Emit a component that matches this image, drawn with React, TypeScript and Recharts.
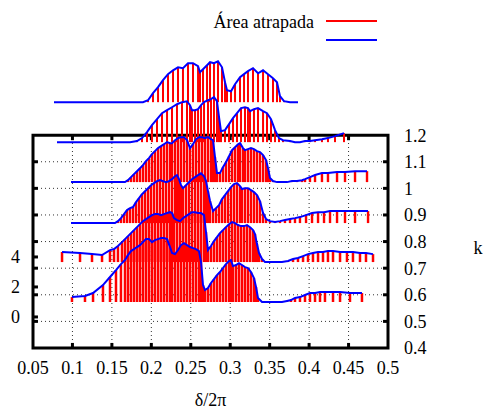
import {
  ComposedChart,
  Line,
  Scatter,
  ErrorBar,
  XAxis,
  YAxis,
  ReferenceLine,
  ReferenceArea,
} from "recharts";

// axis ticks
const xTicks = [0.05, 0.1, 0.15, 0.2, 0.25, 0.3, 0.35, 0.4, 0.45, 0.5];
const kTicks = [0.4, 0.5, 0.6, 0.7, 0.8, 0.9, 1, 1.1, 1.2];
const zTicks = [0, 2, 4];

// where each curve sits on the k scale (waterfall offsets)
const traceBase = [0.5728, 0.723, 0.8695, 1.0235, 1.1737, 1.3239];

// [δ/2π, area] samples, front curve first
const trace1: [number, number][] = [
  [0.0994, 0.33], [0.1159, 0.4], [0.1261, 0.6], [0.1387, 1.13], [0.1476, 1.67], [0.1552, 2.13],
  [0.1615, 2.53], [0.1666, 2.8], [0.1704, 3.13], [0.1742, 3.4], [0.178, 3.53], [0.1818, 3.67],
  [0.1856, 3.8], [0.1894, 4.0], [0.1932, 4.2], [0.197, 4.2], [0.2008, 4.0], [0.2046, 4.13],
  [0.2085, 4.2], [0.2123, 4.27], [0.2161, 4.27], [0.2199, 4.2], [0.2237, 3.67], [0.2262, 3.27],
  [0.23, 3.2], [0.2338, 3.47], [0.2376, 3.8], [0.2414, 3.93], [0.2452, 3.8], [0.249, 3.67],
  [0.2528, 3.6], [0.2566, 3.53], [0.2604, 3.4], [0.263, 2.67], [0.2655, 1.13], [0.268, 0.8],
  [0.2718, 0.93], [0.2756, 1.27], [0.2794, 1.53], [0.2832, 1.8], [0.287, 2.0], [0.2908, 2.27],
  [0.2946, 2.53], [0.2985, 2.73], [0.301, 2.8], [0.3035, 2.4], [0.3073, 2.47], [0.3111, 2.6],
  [0.3149, 2.47], [0.3187, 2.33], [0.3225, 2.27], [0.3263, 2.0], [0.3301, 1.6], [0.3327, 1.0],
  [0.3352, 0.27], [0.3403, 0], [0.3466, 0], [0.353, 0], [0.3593, 0], [0.3656, 0], [0.372, 0.07],
  [0.377, 0.13], [0.3821, 0.27], [0.3884, 0.33], [0.3948, 0.47], [0.4011, 0.6], [0.4075, 0.6],
  [0.4138, 0.67], [0.4201, 0.67], [0.4303, 0.67], [0.4392, 0.67], [0.4518, 0.6], [0.467, 0.6],
];

const trace2: [number, number][] = [
  [0.0868, 0.67], [0.1096, 0.6], [0.1248, 0.53], [0.1375, 0.47], [0.1476, 0.8], [0.1527, 0.87],
  [0.1577, 1.07], [0.1628, 1.33], [0.1666, 1.53], [0.1704, 1.73], [0.1742, 1.93], [0.178, 2.13],
  [0.1818, 2.33], [0.1856, 2.53], [0.1894, 2.73], [0.1932, 2.87], [0.197, 3.0], [0.2008, 3.13],
  [0.2046, 3.2], [0.2085, 3.2], [0.2123, 3.13], [0.2161, 3.2], [0.2199, 3.27], [0.2237, 3.33],
  [0.2262, 3.27], [0.2287, 2.93], [0.2325, 2.8], [0.2363, 2.73], [0.2401, 2.93], [0.2439, 3.07],
  [0.2477, 3.2], [0.2515, 3.33], [0.2554, 3.33], [0.2592, 3.27], [0.263, 3.27], [0.2668, 3.13],
  [0.2693, 2.0], [0.2718, 0.8], [0.2756, 1.07], [0.2794, 1.4], [0.2832, 1.67], [0.287, 1.93],
  [0.2908, 2.13], [0.2946, 2.33], [0.2985, 2.53], [0.3023, 2.67], [0.3061, 2.6], [0.3099, 2.47],
  [0.3137, 2.4], [0.3175, 2.4], [0.3213, 2.47], [0.3251, 2.33], [0.3289, 2.13], [0.3314, 1.87],
  [0.3339, 1.2], [0.3365, 0.6], [0.3403, 0.2], [0.3441, 0], [0.3504, 0], [0.358, 0], [0.3656, 0],
  [0.3732, 0.07], [0.3796, 0.2], [0.3859, 0.27], [0.3923, 0.4], [0.3986, 0.53], [0.4049, 0.6],
  [0.4113, 0.67], [0.4176, 0.67], [0.4239, 0.73], [0.4303, 0.73], [0.4392, 0.67], [0.448, 0.67],
  [0.4556, 0.67], [0.4645, 0.6], [0.4721, 0.6], [0.481, 0.53],
];

const trace3: [number, number][] = [
  [0.0982, 0], [0.1096, 0], [0.1223, 0], [0.1349, 0], [0.1476, 0], [0.1539, 0], [0.1577, 0.13],
  [0.1615, 0.33], [0.1654, 0.6], [0.1692, 0.87], [0.173, 1.0], [0.1768, 1.07], [0.1806, 1.4],
  [0.1844, 1.67], [0.1882, 1.93], [0.192, 2.13], [0.1958, 2.33], [0.1996, 2.53], [0.2034, 2.67],
  [0.2072, 2.8], [0.211, 2.87], [0.2148, 2.8], [0.2186, 2.73], [0.2224, 2.8], [0.2262, 2.93],
  [0.23, 3.13], [0.2325, 3.2], [0.2351, 2.93], [0.2376, 2.53], [0.2401, 2.33], [0.2439, 2.53],
  [0.2477, 2.73], [0.2515, 2.93], [0.2554, 3.07], [0.2592, 3.2], [0.263, 3.33], [0.2668, 3.13],
  [0.2693, 2.8], [0.2718, 2.13], [0.2744, 1.47], [0.2782, 0.8], [0.282, 1.0], [0.2858, 1.2],
  [0.2896, 1.6], [0.2934, 1.87], [0.2972, 2.13], [0.301, 2.4], [0.3048, 2.6], [0.3086, 2.67],
  [0.3124, 2.47], [0.3149, 2.27], [0.3187, 2.33], [0.3225, 2.33], [0.3263, 2.2], [0.3301, 2.07],
  [0.3339, 1.87], [0.3377, 1.47], [0.3416, 0.67], [0.3454, 0.27], [0.3504, 0.13], [0.3568, 0.07],
  [0.3631, 0.13], [0.3694, 0.2], [0.3758, 0.27], [0.3821, 0.33], [0.3884, 0.4], [0.3961, 0.53],
  [0.4037, 0.67], [0.4113, 0.73], [0.4189, 0.73], [0.4265, 0.8], [0.4354, 0.8], [0.4455, 0.8],
  [0.4582, 0.8], [0.4747, 0.8],
];

const trace4: [number, number][] = [
  [0.0982, 0], [0.1096, 0], [0.1223, 0], [0.1349, 0], [0.1476, 0], [0.1603, 0], [0.1666, 0],
  [0.1704, 0.13], [0.1742, 0.33], [0.178, 0.53], [0.1818, 0.73], [0.1856, 0.93], [0.1894, 1.13],
  [0.1932, 1.4], [0.197, 1.6], [0.2008, 1.87], [0.2046, 2.07], [0.2085, 2.27], [0.2123, 2.4],
  [0.2161, 2.53], [0.2199, 2.67], [0.2237, 2.6], [0.2262, 2.6], [0.23, 2.8], [0.2338, 2.93],
  [0.2376, 3.0], [0.2414, 3.0], [0.2452, 2.8], [0.249, 2.27], [0.2528, 2.53], [0.2566, 2.87],
  [0.2604, 3.0], [0.2642, 3.0], [0.268, 2.93], [0.2718, 3.0], [0.2756, 2.87], [0.2782, 2.8],
  [0.2807, 1.67], [0.2832, 0.6], [0.287, 0.6], [0.2908, 1.0], [0.2946, 1.33], [0.2985, 1.73],
  [0.3023, 2.13], [0.3061, 2.33], [0.3099, 2.53], [0.3124, 2.6], [0.3162, 2.27], [0.3187, 2.13],
  [0.3225, 2.2], [0.3263, 2.27], [0.3301, 2.2], [0.3339, 2.07], [0.3377, 2.0], [0.3416, 1.8],
  [0.3454, 1.47], [0.3479, 0.93], [0.3504, 0.27], [0.3542, 0.07], [0.3593, 0], [0.3656, 0],
  [0.372, 0], [0.3783, 0.07], [0.3846, 0.07], [0.391, 0.13], [0.3948, 0.2], [0.4011, 0.33],
  [0.4075, 0.47], [0.4163, 0.6], [0.4239, 0.6], [0.4354, 0.67], [0.4455, 0.67], [0.4582, 0.73],
  [0.4734, 0.73],
];

const trace5: [number, number][] = [
  [0.0804, 0], [0.0969, 0], [0.1159, 0], [0.1349, 0], [0.1539, 0], [0.173, 0], [0.1818, 0.07],
  [0.1882, 0.27], [0.1945, 0.67], [0.2008, 1.13], [0.2072, 1.53], [0.2135, 1.93], [0.2199, 2.13],
  [0.2262, 2.33], [0.2325, 2.53], [0.2389, 2.67], [0.2452, 2.73], [0.249, 2.47], [0.2515, 2.13],
  [0.2554, 2.13], [0.2592, 2.2], [0.263, 2.47], [0.2668, 2.67], [0.2718, 2.8], [0.2756, 2.87],
  [0.2794, 3.0], [0.2832, 2.73], [0.2858, 1.67], [0.2883, 0.73], [0.2934, 0.8], [0.2985, 1.2],
  [0.3035, 1.6], [0.3086, 1.93], [0.3137, 2.27], [0.3187, 2.33], [0.3225, 2.27], [0.3251, 2.07],
  [0.3301, 2.2], [0.3352, 2.27], [0.3416, 2.07], [0.3466, 1.93], [0.3517, 1.53], [0.3568, 0.8],
  [0.3618, 0.27], [0.3669, 0.13], [0.3758, 0.07], [0.3821, 0], [0.3884, 0], [0.3948, 0.07],
  [0.4011, 0.07], [0.4075, 0.13], [0.4163, 0.2], [0.4239, 0.27], [0.4328, 0.4], [0.4442, 0.6],
];

const trace6: [number, number][] = [
  [0.0766, 0], [0.0969, 0], [0.1223, 0], [0.1476, 0], [0.173, 0], [0.1894, 0], [0.1958, 0.13],
  [0.2021, 0.6], [0.2085, 1.0], [0.2148, 1.47], [0.2211, 1.87], [0.2275, 2.13], [0.2338, 2.33],
  [0.2401, 2.27], [0.2465, 2.6], [0.2528, 2.6], [0.2592, 2.4], [0.2617, 2.0], [0.2655, 2.2],
  [0.2706, 2.47], [0.2744, 2.67], [0.2794, 2.6], [0.2845, 2.73], [0.2896, 2.33], [0.2934, 1.33],
  [0.2959, 0.8], [0.301, 0.73], [0.3061, 1.2], [0.3124, 1.67], [0.3175, 1.87], [0.3225, 2.07],
  [0.3289, 2.27], [0.3352, 1.93], [0.3416, 2.13], [0.3479, 1.87], [0.3542, 1.6], [0.3593, 1.33],
  [0.3631, 0.4], [0.3682, 0.07], [0.3758, 0], [0.3859, 0],
];

const traces = [trace1, trace2, trace3, trace4, trace5, trace6];

// one area unit measured on the k scale
const Z_TO_K = 0.0563;

const series = traces.map((pts, i) =>
  pts.map(([x, z]) => {
    const rise = z * Z_TO_K;
    return { x, y: traceBase[i] + rise, err: [rise, 0] };
  })
);

// front curves are sampled more finely, so their impulses look thicker
const impulseWidth = [2.5, 2.5, 2.4, 2.4, 2, 2];

const FONT = "'Liberation Serif', 'Times New Roman', serif";
const tickFont = { fontSize: 18, fill: "#000", fontFamily: FONT };
const grid = { stroke: "#333", strokeWidth: 1, strokeDasharray: "1 3" };
const tickMark = { stroke: "#000", strokeWidth: 3 };

export default function App() {
  return (
    <div style={{ position: "absolute", left: 0, top: 0, width: 486, height: 414 }}>
      <ComposedChart
        width={486}
        height={414}
        margin={{ top: 50, right: 0, bottom: 0, left: 0 }}
      >
        <XAxis
          dataKey="x"
          type="number"
          domain={[0.05, 0.5]}
          ticks={xTicks}
          allowDataOverflow
          axisLine={false}
          tickLine={false}
          tickSize={13}
          tickMargin={0}
          height={66}
          tick={tickFont}
          interval={0}
          label={{ value: "δ/2π", position: "insideBottom", offset: 8, fontSize: 18, fill: "#000", fontFamily: FONT }}
        />
        <YAxis
          yAxisId="k"
          orientation="right"
          type="number"
          domain={[0.4, 1.52]}
          ticks={kTicks}
          allowDataOverflow
          axisLine={false}
          tickLine={false}
          tickSize={16}
          tickMargin={0}
          width={98}
          tick={tickFont}
          interval={0}
        />
        <YAxis
          yAxisId="z"
          orientation="left"
          type="number"
          domain={[-2.07, 17.8]}
          ticks={zTicks}
          allowDataOverflow
          axisLine={false}
          tickLine={false}
          tickSize={13}
          tickMargin={0}
          width={33}
          tick={tickFont}
          interval={0}
        />

        {/* dotted grid inside the box */}
        {xTicks.slice(1, -1).map((v) => (
          <ReferenceLine key={`gx${v}`} yAxisId="k" segment={[{ x: v, y: 0.4 }, { x: v, y: 1.2 }]} {...grid} />
        ))}
        {kTicks.slice(1, -1).map((v) => (
          <ReferenceLine key={`gk${v}`} yAxisId="k" segment={[{ x: 0.05, y: v }, { x: 0.5, y: v }]} {...grid} />
        ))}

        {/* box and inward ticks */}
        <ReferenceArea yAxisId="k" x1={0.05} x2={0.5} y1={0.4} y2={1.2} fill="none" fillOpacity={0} stroke="#000" strokeWidth={3} />
        {xTicks.slice(1, -1).map((v) => (
          <ReferenceLine key={`tb${v}`} yAxisId="k" segment={[{ x: v, y: 0.4 }, { x: v, y: 0.419 }]} {...tickMark} />
        ))}
        {xTicks.slice(1, -1).map((v) => (
          <ReferenceLine key={`tt${v}`} yAxisId="k" segment={[{ x: v, y: 1.181 }, { x: v, y: 1.2 }]} {...tickMark} />
        ))}
        {kTicks.slice(1, -1).map((v) => (
          <ReferenceLine key={`tl${v}`} yAxisId="k" segment={[{ x: 0.05, y: v }, { x: 0.0563, y: v }]} {...tickMark} />
        ))}
        {kTicks.slice(1, -1).map((v) => (
          <ReferenceLine key={`tr${v}`} yAxisId="k" segment={[{ x: 0.4937, y: v }, { x: 0.5, y: v }]} {...tickMark} />
        ))}
        {zTicks.map((v) => (
          <ReferenceLine key={`tz${v}`} yAxisId="z" segment={[{ x: 0.05, y: v }, { x: 0.0563, y: v }]} {...tickMark} />
        ))}

        {/* impulses */}
        {series.map((data, i) => (
          <Scatter
            key={`imp${i}`}
            yAxisId="k"
            data={data}
            dataKey="y"
            shape={() => <g />}
            isAnimationActive={false}
          >
            <ErrorBar dataKey="err" direction="y" width={0} stroke="#ff0000" strokeWidth={impulseWidth[i]} isAnimationActive={false} />
          </Scatter>
        ))}

        {/* curves */}
        {series.map((data, i) => (
          <Line
            key={`ln${i}`}
            yAxisId="k"
            data={data}
            dataKey="y"
            type="linear"
            stroke="#0000ff"
            strokeWidth={2}
            dot={false}
            isAnimationActive={false}
          />
        ))}
      </ComposedChart>

      <svg
        width={486}
        height={414}
        style={{ position: "absolute", left: 0, top: 0, pointerEvents: "none" }}
        fontFamily={FONT}
        fontSize={18}
      >
        <text x={314} y={22} textAnchor="end" dominantBaseline="central">Área atrapada</text>
        <line x1={326} y1={21} x2={377} y2={21} stroke="#ff0000" strokeWidth={2} />
        <line x1={326} y1={40} x2={377} y2={40} stroke="#0000ff" strokeWidth={2} />
        <text x={478} y={248} textAnchor="middle" dominantBaseline="central">k</text>
      </svg>
    </div>
  );
}
